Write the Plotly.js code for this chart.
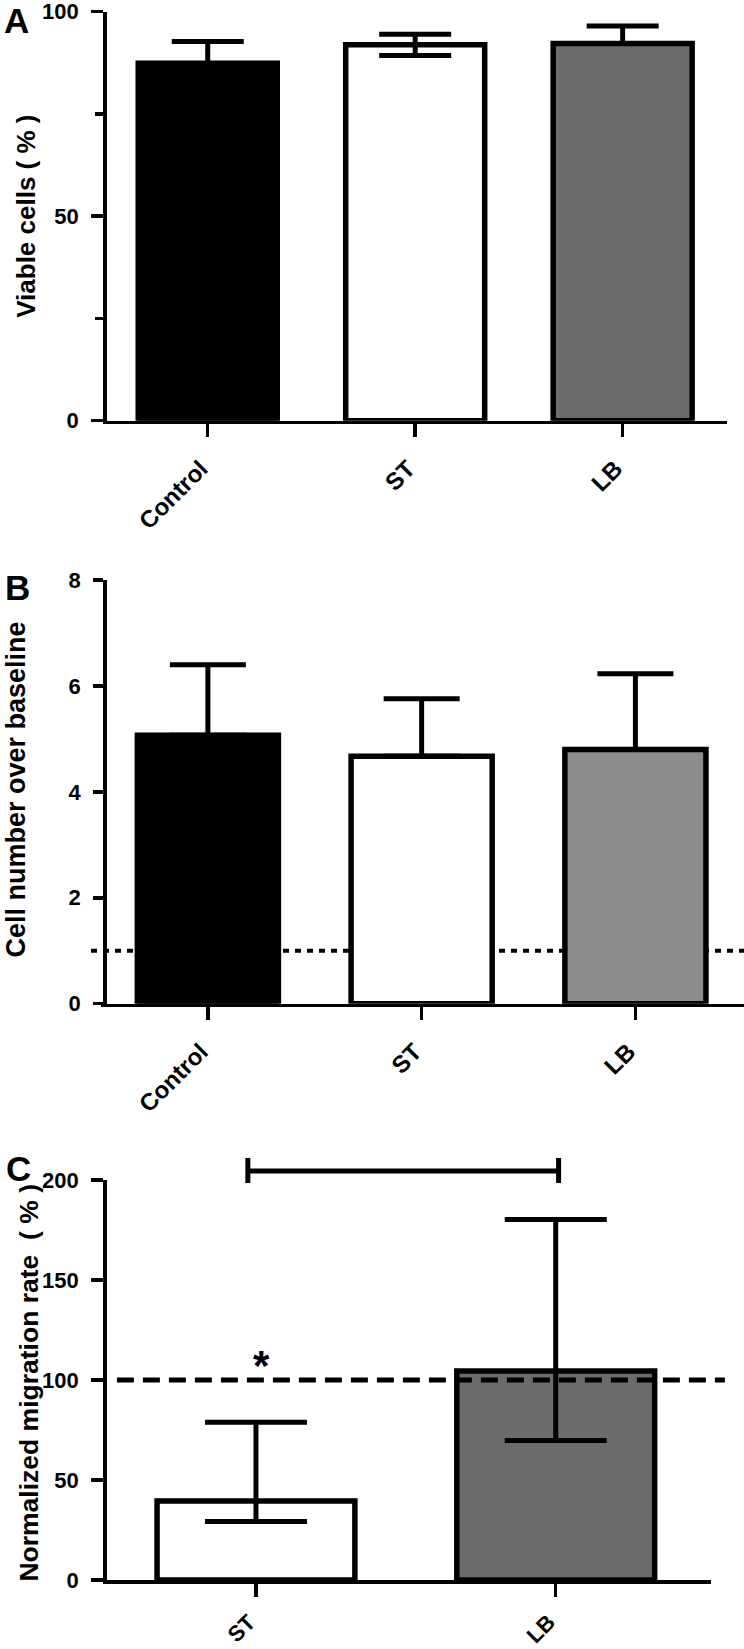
<!DOCTYPE html>
<html>
<head>
<meta charset="utf-8">
<script src="https://cdn.plot.ly/plotly-3.0.1.min.js"></script>
<style>html,body{margin:0;padding:0;background:#fff;}#chart{width:744px;height:1649px;}</style>
</head>
<body>
<div id="chart"></div>
<script>
// ---------- data ----------
const catA = ['Control', 'ST', 'LB'];
const viableMean = [87.4, 91.9, 92.2];
const viableErrPlus = [5.3, 2.6, 4.3];
const viableErrMinus = [5.3, 2.6, 0];
const colorsA = ['#000000', '#ffffff', '#6b6b6b'];
const yTicksA = [0, 50, 100];

const catB = ['Control', 'ST', 'LB'];
const cellMean = [5.07, 4.67, 4.80];
const cellErr = [1.33, 1.09, 1.43];
const cellErrMinus = [0, 0, 0];
const colorsB = ['#000000', '#ffffff', '#8c8c8c'];
const baselineB = 1;
const yTicksB = [0, 2, 4, 6, 8];

const catC = ['ST', 'LB'];
const migMean = [39.5, 104.5];
const migErrPlus = [39.4, 75.7];
const migErrMinus = [10.3, 34.7];
const colorsC = ['#ffffff', '#6b6b6b'];
const refC = 100;
const sigY = [198.5, 204.5, 211];
const yTicksC = [0, 50, 100, 150, 200];

// ---------- layout helpers ----------
const W = 744, H = 1649;
const px = v => v / W;
const py = v => 1 - v / H;
const FONT = 'Arial, "Liberation Sans", sans-serif';
const idx = arr => arr.map((_, i) => i);
const idxA = idx(catA), idxB = idx(catB), idxC = idx(catC);

function yAxis(domain, range, tickvals, extra) {
  return Object.assign({
    domain: domain, range: range, tickvals: tickvals,
    showline: true, linewidth: 3.5, linecolor: '#000',
    ticks: 'outside', ticklen: 12, tickwidth: 3.5, tickcolor: '#000',
    ticklabelstandoff: 8, ticklabeloverflow: 'allow',
    showgrid: false, zeroline: false, fixedrange: true,
    tickfont: {family: FONT, size: 22, color: '#000', weight: 700}
  }, extra || {});
}
function xAxis(domain, range, anchor, cats, fsize, standoff) {
  return {
    domain: domain, range: range, anchor: anchor, type: 'linear',
    tickvals: idx(cats), ticktext: cats,
    showline: true, linewidth: 3.5, linecolor: '#000',
    ticks: 'outside', ticklen: 13, tickwidth: 3.5, tickcolor: '#000',
    ticklabelstandoff: standoff, ticklabelshift: -7, ticklabeloverflow: 'allow',
    showgrid: false, zeroline: false, fixedrange: true, tickangle: -45,
    tickfont: {family: FONT, size: fsize, color: '#000', weight: 700}
  };
}
function hiddenAxis(domain, range, anchor) {
  return {domain: domain, range: range, anchor: anchor, visible: false, fixedrange: true};
}

const traces = [
  {
    type: 'bar', x: idxA, y: viableMean, xaxis: 'x', yaxis: 'y', width: 0.67,
    marker: {color: colorsA, line: {color: '#000', width: 5.5}},
    error_y: {type: 'data', symmetric: false, array: viableErrPlus, arrayminus: viableErrMinus,
              color: '#000', thickness: 5, width: 36},
    hoverinfo: 'skip'
  },
  {
    type: 'bar', x: idxB, y: cellMean, xaxis: 'x2', yaxis: 'y2', width: 0.66,
    marker: {color: colorsB, line: {color: '#000', width: 5.5}},
    error_y: {type: 'data', symmetric: false, array: cellErr, arrayminus: cellErrMinus,
              color: '#000', thickness: 5, width: 38},
    hoverinfo: 'skip'
  },
  {
    type: 'bar', x: idxC, y: migMean, xaxis: 'x3', yaxis: 'y3', width: 0.66,
    marker: {color: colorsC, line: {color: '#000', width: 5.5}},
    error_y: {type: 'data', symmetric: false, array: migErrPlus, arrayminus: migErrMinus,
              color: '#000', thickness: 5, width: 51},
    hoverinfo: 'skip'
  },
  // reference line at 100 % in panel C (hidden overlay subplot with the same scale, drawn above bars)
  {
    type: 'scatter', mode: 'lines', xaxis: 'x4', yaxis: 'y4',
    x: [idxC[0] - 0.464, idxC[1] + 0.565], y: [refC, refC],
    line: {color: '#000', width: 5, dash: '17px,9px'}, hoverinfo: 'skip'
  },
  // significance bracket ST vs LB
  {
    type: 'scatter', mode: 'lines', xaxis: 'x4', yaxis: 'y4',
    x: [idxC[0] - 0.027, idxC[0] - 0.027, null, idxC[0] - 0.027, idxC[1] + 0.01, null, idxC[1] + 0.01, idxC[1] + 0.01],
    y: [sigY[0], sigY[2], null, sigY[1], sigY[1], null, sigY[0], sigY[2]],
    line: {color: '#000', width: 5}, hoverinfo: 'skip'
  }
];

const layout = {
  width: W, height: H,
  margin: {l: 0, r: 0, t: 0, b: 0},
  paper_bgcolor: '#fff', plot_bgcolor: 'rgba(0,0,0,0)',
  showlegend: false, bargap: 0,
  font: {family: FONT, color: '#000'},
  xaxis: xAxis([px(106.7), px(727)], [-0.487, 2.503], 'y', catA, 24, 8),
  yaxis: yAxis([py(420.7), py(11.7)], [0, 100], yTicksA,
               {minor: {dtick: 25, ticks: 'outside', ticklen: 8, tickwidth: 3.5, tickcolor: '#000'}}),
  xaxis2: xAxis([px(101), 1], [-0.5, 2.508], 'y2', catB, 24, 8),
  yaxis2: yAxis([py(1003.7), py(580)], [0, 8], yTicksB, {ticklen: 10}),
  xaxis3: xAxis([px(106.7), px(710.7)], [-0.498, 1.517], 'y3', catC, 22, 4),
  yaxis3: yAxis([py(1580), py(1180)], [0, 200], yTicksC),
  // same scale as x3/y3 (299.7 px per category, 2 px per %), wider extent
  xaxis4: hiddenAxis([px(106.7), px(730)], [-0.498, 1.582], 'y4'),
  yaxis4: hiddenAxis([py(1580), py(1150)], [0, 215], 'x4'),
  shapes: [
    {type: 'line', layer: 'below', xref: 'paper', yref: 'y2',
     x0: px(91), x1: 1, y0: baselineB, y1: baselineB,
     line: {color: '#000', width: 4, dash: '6px,6px'}}
  ],
  annotations: [
    {text: 'A', xref: 'paper', yref: 'paper', x: px(16), y: py(20.5), showarrow: false,
     xanchor: 'center', yanchor: 'middle', font: {size: 35, weight: 700, family: FONT}},
    {text: 'B', xref: 'paper', yref: 'paper', x: px(17), y: py(587), showarrow: false,
     xanchor: 'center', yanchor: 'middle', font: {size: 35, weight: 700, family: FONT}},
    {text: 'C', xref: 'paper', yref: 'paper', x: px(18.5), y: py(1168), showarrow: false,
     xanchor: 'center', yanchor: 'middle', font: {size: 35, weight: 700, family: FONT}},
    {text: 'Viable cells ( % )', xref: 'paper', yref: 'paper', x: px(26.3), y: py(216.5),
     textangle: -90, showarrow: false, xanchor: 'center', yanchor: 'middle',
     font: {size: 26, weight: 700, family: FONT}},
    {text: 'Cell number over baseline', xref: 'paper', yref: 'paper', x: px(15.6), y: py(790),
     textangle: -90, showarrow: false, xanchor: 'center', yanchor: 'middle',
     font: {size: 27, weight: 700, family: FONT}},
    {text: 'Normalized migration rate&nbsp;&nbsp;( % )', xref: 'paper', yref: 'paper', x: px(28.6), y: py(1383),
     textangle: -90, showarrow: false, xanchor: 'center', yanchor: 'middle',
     font: {size: 26.5, weight: 700, family: FONT}},
    {text: '*', xref: 'x3', yref: 'y3', x: 0.02, y: 107.5, showarrow: false,
     xanchor: 'center', yanchor: 'middle', font: {size: 42, weight: 700, family: FONT}}
  ]
};

Plotly.newPlot('chart', traces, layout, {staticPlot: true, displayModeBar: false});
</script>
</body>
</html>
